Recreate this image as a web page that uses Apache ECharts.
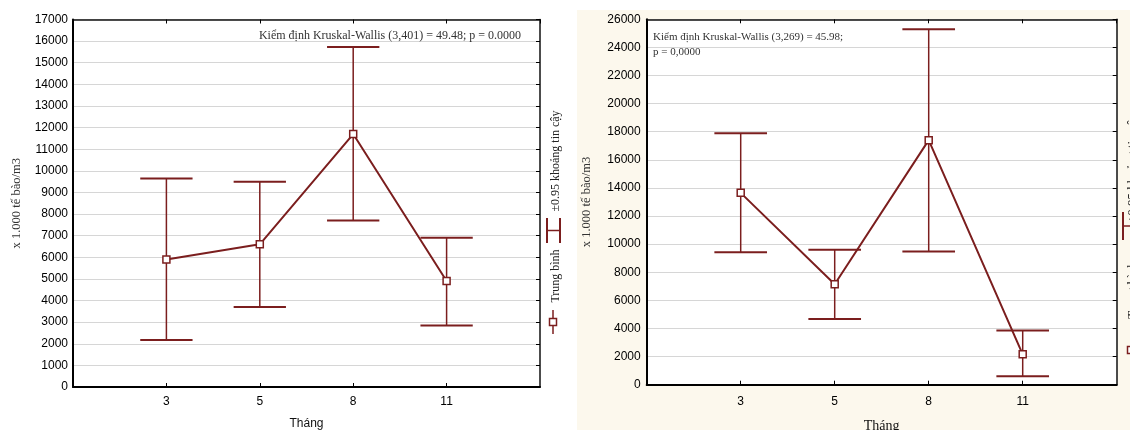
<!DOCTYPE html>
<html>
<head>
<meta charset="utf-8">
<script src="https://cdn.jsdelivr.net/npm/echarts@6/dist/echarts.min.js"></script>
<style>
  html, body { margin: 0; padding: 0; background: #ffffff; }
  #left { position: absolute; left: 0; top: 0; width: 577px; height: 430px; }
  #right { position: absolute; left: 577px; top: 10px; width: 553px; height: 420px; }
</style>
</head>
<body>
<div id="left"></div>
<div id="right"></div>
<script>
// Months sampled (x categories)
const months = ['3', '5', '8', '11'];

// Panel A: mean and 95% confidence bounds (x 1.000 cells/m3)
const meanA = [5900, 6600, 11700, 4900];
const lowA  = [2170, 3700, 7700, 2850];
const highA = [9650, 9500, 15730, 6900];

// Panel B: mean and 95% confidence bounds (x 1.000 cells/m3)
const meanB = [13650, 7150, 17400, 2160];
const lowB  = [9420, 4680, 9470, 600];
const highB = [17900, 9600, 25300, 3850];

const yTitle = 'x 1.000 tế bào/m3';
const xTitle = 'Tháng';
const legendMean = 'Trung bình';
const legendCI = '±0.95 khoảng tin cậy';
const noteA = ['Kiểm định Kruskal-Wallis (3,401) = 49.48; p = 0.0000'];
const noteB = ['Kiểm định Kruskal-Wallis (3,269) = 45.98;', 'p = 0,0000'];

const MAROON = '#7b1e1e';
const SERIF = '"Liberation Serif", "DejaVu Serif", serif';
const SANS = '"Liberation Sans", Arial, sans-serif';

function errorBarItem(params, api) {
  const x = api.value(0);
  const lo = api.coord([x, api.value(1)]);
  const hi = api.coord([x, api.value(2)]);
  const half = api.size([1, 0])[0] * 0.28;
  return {
    type: 'group',
    children: [
      { type: 'line', shape: { x1: hi[0], y1: hi[1], x2: lo[0], y2: lo[1] },
        style: { stroke: MAROON, lineWidth: 1.5 } },
      { type: 'line', shape: { x1: hi[0] - half, y1: hi[1], x2: hi[0] + half, y2: hi[1] },
        style: { stroke: MAROON, lineWidth: 2 } },
      { type: 'line', shape: { x1: lo[0] - half, y1: lo[1], x2: lo[0] + half, y2: lo[1] },
        style: { stroke: MAROON, lineWidth: 2 } }
    ]
  };
}

// Rotated legend (reads bottom-to-top) placed to the right of the plot
function legendGraphics(L) {
  return [
    { type: 'line', shape: { x1: L.sx, y1: L.sy - L.sl, x2: L.sx, y2: L.sy + L.sl },
      style: { stroke: MAROON, lineWidth: 1.5 } },
    { type: 'rect', shape: { x: L.sx - 3.5, y: L.sy - 3.5, width: 7, height: 7 },
      style: { fill: '#fff', stroke: MAROON, lineWidth: 1.5 }, z: 10 },
    { type: 'text', x: L.tx, y: L.meanY, rotation: Math.PI / 2,
      style: { text: legendMean, font: L.font, fill: '#222', align: 'center', verticalAlign: 'middle' } },
    { type: 'line', shape: { x1: L.hx1, y1: L.hy1, x2: L.hx1, y2: L.hy2 },
      style: { stroke: MAROON, lineWidth: 2 } },
    { type: 'line', shape: { x1: L.hx2, y1: L.hy1, x2: L.hx2, y2: L.hy2 },
      style: { stroke: MAROON, lineWidth: 2 } },
    { type: 'line', shape: { x1: L.hx1, y1: (L.hy1 + L.hy2) / 2, x2: L.hx2, y2: (L.hy1 + L.hy2) / 2 },
      style: { stroke: MAROON, lineWidth: 1.5 } },
    { type: 'text', x: L.tx, y: L.ciY, rotation: Math.PI / 2,
      style: { text: legendCI, font: L.font, fill: '#222', align: 'center', verticalAlign: 'middle' } }
  ];
}

function buildOption(cfg) {
  const pts = cfg.mean.map((v, i) => [i + 1, v]);
  const bars = cfg.low.map((v, i) => [i + 1, v, cfg.high[i]]);
  const tickLabel = v => months[v - 1] || '';
  const notes = cfg.note.map((t, i) => ({
    type: 'text', x: cfg.noteX, y: cfg.noteY + i * 15,
    style: { text: t, font: cfg.noteFont, fill: '#333', align: cfg.noteAlign, verticalAlign: 'middle' },
    z: 20
  }));
  return {
    backgroundColor: cfg.bg,
    animation: false,
    grid: { left: cfg.grid.left, top: cfg.grid.top, width: cfg.grid.width, height: cfg.grid.height,
            outerBoundsMode: 'none', containLabel: false,
            show: true, backgroundColor: '#ffffff', borderWidth: 0 },
    xAxis: [
      { type: 'value', min: 0, max: 5, interval: 1, position: 'bottom',
        name: xTitle, nameLocation: 'middle', nameGap: cfg.xNameGap,
        nameTextStyle: { fontFamily: cfg.xNameFont, fontSize: cfg.xNameSize, color: '#111' },
        axisLine: { show: true, onZero: false, lineStyle: { color: '#000', width: 2 } },
        axisTick: { show: true, inside: true, length: 4, lineStyle: { color: '#000' } },
        axisLabel: { formatter: tickLabel, fontFamily: SANS, fontSize: 12, color: '#000', margin: cfg.xLabelMargin,
                     showMinLabel: false, showMaxLabel: false },
        splitLine: { show: false } },
      { type: 'value', min: 0, max: 5, interval: 1, position: 'top',
        axisLine: { show: true, onZero: false, lineStyle: { color: '#111', width: 1.5 } },
        axisTick: { show: true, inside: true, length: 4, lineStyle: { color: '#000' } },
        axisLabel: { show: false }, splitLine: { show: false } }
    ],
    yAxis: [
      { type: 'value', min: 0, max: cfg.yMax, interval: cfg.yStep, position: 'left',
        name: yTitle, nameLocation: 'middle', nameGap: cfg.yNameGap,
        nameTextStyle: { fontFamily: SERIF, fontSize: 12.5, color: '#333' },
        axisLine: { show: true, onZero: false, lineStyle: { color: '#000', width: 2 } },
        axisTick: { show: false },
        axisLabel: { formatter: v => String(v), fontFamily: SANS, fontSize: 12, color: '#000', margin: cfg.yLabelMargin },
        splitLine: { show: true, lineStyle: { color: '#d6d6d6', width: 1 } } },
      { type: 'value', min: 0, max: cfg.yMax, interval: cfg.yStep, position: 'right',
        axisLine: { show: true, onZero: false, lineStyle: { color: '#111', width: 1.5 } },
        axisTick: { show: true, inside: true, length: 4, lineStyle: { color: '#000' } },
        axisLabel: { show: false }, splitLine: { show: false } }
    ],
    series: [
      { type: 'custom', name: legendCI, renderItem: errorBarItem, data: bars,
        encode: { x: 0, y: [1, 2] }, z: 3, clip: false },
      { type: 'line', name: legendMean, data: pts, symbol: 'rect', symbolSize: 7,
        lineStyle: { color: MAROON, width: 2 },
        itemStyle: { color: '#ffffff', borderColor: MAROON, borderWidth: 1.5 },
        z: 5 }
    ],
    graphic: notes.concat(legendGraphics(cfg.legend))
  };
}

const leftChart = echarts.init(document.getElementById('left'), null, { renderer: 'canvas' });
leftChart.setOption(buildOption({
  bg: '#ffffff',
  grid: { left: 73, top: 19.5, width: 467, height: 367.5 },
  mean: meanA, low: lowA, high: highA,
  yMax: 17000, yStep: 1000,
  xNameGap: 31, xNameFont: SANS, xNameSize: 12, xLabelMargin: 9,
  yNameGap: 50, yLabelMargin: 5,
  note: noteA, noteX: 390, noteY: 36, noteAlign: 'center', noteFont: '12px ' + SERIF,
  legend: { sx: 553, sy: 322, sl: 12, tx: 556, meanY: 276, hx1: 547, hx2: 560, hy1: 218, hy2: 243,
            ciY: 161, font: '12px ' + SERIF }
}));

const rightChart = echarts.init(document.getElementById('right'), null, { renderer: 'canvas' });
rightChart.setOption(buildOption({
  bg: '#fcf8ed',
  grid: { left: 69.7, top: 9.3, width: 470, height: 365.4 },
  mean: meanB, low: lowB, high: highB,
  yMax: 26000, yStep: 2000,
  xNameGap: 35, xNameFont: SERIF, xNameSize: 14, xLabelMargin: 11,
  yNameGap: 53, yLabelMargin: 6,
  note: noteB, noteX: 76, noteY: 27, noteAlign: 'left', noteFont: '11px ' + SERIF,
  legend: { sx: 554, sy: 340, sl: 13, tx: 556, meanY: 280, hx1: 546, hx2: 560, hy1: 202, hy2: 230,
            ciY: 158, font: '13px ' + SERIF }
}));
</script>
</body>
</html>
